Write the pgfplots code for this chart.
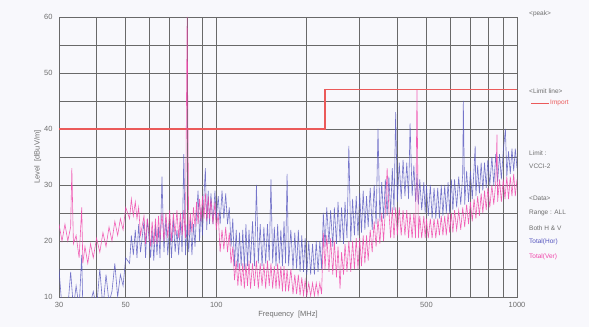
\documentclass[border=0pt]{standalone}
\usepackage{pgfplots}
\pgfplotsset{compat=1.18}
\usepackage{fontspec}
\setmainfont{Liberation Sans}
\definecolor{bgc}{RGB}{248,248,252}
\definecolor{gridc}{RGB}{105,105,105}
\definecolor{txtc}{RGB}{110,110,110}
\definecolor{horc}{RGB}{85,85,190}
\definecolor{verc}{RGB}{240,70,170}
\definecolor{limc}{RGB}{235,90,90}
\begin{document}
\begin{tikzpicture}[x=1pt,y=1pt]
\fill[bgc] (0,0) rectangle (589,327);
\begin{axis}[
  at={(59pt,30pt)}, anchor=south west,
  scale only axis, width=458pt, height=280pt,
  xmode=log, xmin=30, xmax=1000, ymin=10, ymax=60,
  xtick={30,40,50,60,70,80,90,100,200,300,400,500,600,700,800,900,1000},
  xticklabels={30,,50,,,,,100,,,,500,,,,,1000},
  ytick={10,15,20,25,30,35,40,45,50,55,60},
  yticklabels={10,,20,,30,,40,,50,,60},
  major tick length=0pt,
  grid=major,
  major grid style={draw=gridc, line width=0.7pt},
  axis line style={draw=gridc, line width=0.7pt},
  tick label style={font=\fontsize{7.5}{8}\selectfont, text=txtc},
  /pgf/number format/assume math mode=true,
  xticklabel style={yshift=-2pt},
  yticklabel style={xshift=-3pt},
  xlabel={Frequency\ \ [MHz]},
  ylabel={Level\ \ [dBuV/m]},
  label style={font=\fontsize{7.5}{8}\selectfont, text=txtc},
  xlabel style={yshift=4pt},
  ylabel style={yshift=-4pt},
  clip=true,
]
\addplot[color=limc, line width=1.3pt, const plot] coordinates {(30,40) (230,47) (1000,47)};
\addplot[draw=horc, line width=0.6pt, opacity=0.8] coordinates {
(30,15)(30.7,8)(31.4,9)(32.1,8)(32.8,14.5)(33.5,8)(34.2,12)(35,8)(35.7,17.5)(36,8)(36.6,9)(37.4,8)(38.2,9)(39,11)(40,8)(41,15)(42,8)(43,14)(44,9)(45,11)(46,16)(47,10)(48,14)(49,12)(50,17)(51.5,16)(52.2,21)(53,17.5)(53.8,22)(54.5,17)(55.2,23)(56,18)(57.5,23.5)(58.2,17)(59,24)(60.5,17)(61.2,22)(62,16.5)(62.8,23)(63.5,17.5)(64.3,22.5)(65,17)(66,31.5)(67,18)(68,24)(69,17.5)(70,23)(71,17)(72,24)(73,18)(74,22)(75,17.5)(76,23.5)(77,18)(78,35.5)(79,17.5)(80,23)(81,18)(82,24)(83,17.5)(84,23)(85,19)(86,25)(87,29)(88,20)(89,26)(90,21)(91,28)(92,33)(93,22)(94,29)(95,23)(96,28.5)(97.5,23)(99,29)(100,24)(101.5,28)(103,23)(104.5,29)(106,24)(107.5,28.5)(109,23)(110.5,26)(112,19)(113.5,24)(115,15.5)(116.5,22)(118,15)(119.5,21.5)(121,15.5)(122.5,22)(124,15)(125.5,23)(127,15.5)(128.5,22)(130,16)(132,23.5)(134,15.5)(136,30)(138,16)(140,23)(142,15.5)(144,22.5)(146,16)(148,23)(150,16.5)(152,31)(154,16)(156,22.5)(158,15.5)(160,23)(162,16)(164,22)(166,15.5)(168,23.5)(170,16)(172,32)(174,15.5)(177,22)(180,15)(182.5,21.5)(185,15)(187.5,22)(190,14.5)(192.5,21)(195,14.5)(197.5,20.5)(200,14)(203,20)(206,14)(209,19.5)(212,14)(215,20)(218,14.5)(221,20)(224,15)(227,25)(230,19)(233,26)(237,19.5)(240,25.5)(244,19)(247,26)(251,19.5)(254,27)(258,20)(261,26)(265,19.5)(268,27)(272,20.5)(276,37)(280,20)(284,27.5)(288,21)(292,28)(296,21)(300,28.5)(304,21.5)(308,29)(312,22)(316,28)(320,22.5)(325,29.5)(330,22)(335,30)(340,23)(345,40)(350,23.5)(355,30.5)(360,24)(365,31)(370,24.5)(375,31.5)(380,25)(385,33)(390,25.5)(395,43)(400,27)(406,34)(412,27.5)(418,34.5)(424,28)(430,34)(436,27.5)(441,41)(448,28)(454,33.5)(460,27)(465,32)(470,26.5)(475,31)(482,25.5)(490,30.5)(495,25)(500,30)(507,24.5)(515,30)(522,24)(530,29.5)(537,24)(545,29.5)(552,24)(560,30)(567,24.5)(575,30)(582,25)(590,30.5)(597,25)(605,31)(612,25.5)(620,31)(630,26)(640,31.5)(650,26.5)(660,32)(663,45)(670,26.5)(680,32.5)(690,27)(700,32.5)(710,27.5)(720,33)(726,37)(730,28)(740,33.5)(750,28.5)(760,34)(770,29)(780,34)(790,29.5)(800,34.5)(812,30)(825,35)(837,30)(850,35.5)(862,30.5)(875,35.5)(887,31)(900,36)(915,40)(925,31.5)(937,36)(950,32)(962,36.5)(975,32.5)(987,36.5)(1000,33)
};
\addplot[draw=verc, line width=0.6pt, opacity=0.85] coordinates {
(30,23)(30.7,20)(31.4,23)(32.1,20)(32.8,22.5)(33.1,33)(33.5,19.5)(34.2,21)(35,17)(35.7,26)(36,16)(36.6,19)(37.4,16)(38.2,19.5)(39,17)(40,20.5)(41,18)(42,21.5)(43,19)(44,22.5)(45,20)(46,23.5)(47,21)(48,24)(49,22)(50,26)(51.5,24)(52.2,27.5)(53,24.5)(53.8,27)(54.5,24)(55.2,26)(56,21)(57.5,24.5)(58.2,19.5)(59,24)(60.5,19)(61.2,23.5)(62,19.5)(62.8,24)(63.5,19.5)(64.3,24.5)(65,20)(66,25)(67,20)(68,25)(69,20.5)(70,25.5)(71,20)(72,25)(73,21)(74,25.5)(75,20.5)(76,25)(77,21)(78,25.5)(79,20.5)(80,60)(81,21)(82,25)(83,21.5)(84,26)(85,22.5)(86,27)(87,23)(88,27.5)(89,23.5)(90,28)(91,24)(92,28.5)(93,23.5)(94,28)(95,24)(96,27.5)(97.5,23)(99,27)(100,22)(101.5,25)(103,18)(104.5,22)(106,18.5)(107.5,22.5)(109,18)(110.5,21.5)(112,16)(113.5,19)(115,13)(116.5,16.5)(118,12)(119.5,16)(121,12)(122.5,16)(124,11.5)(125.5,16)(127,12)(128.5,16.5)(130,11.5)(132,16)(134,12)(136,16.5)(138,11.5)(140,16)(142,12)(144,16)(146,11.5)(148,16.5)(150,12)(152,16)(154,11.5)(156,15.5)(158,11.5)(160,16)(162,11.5)(164,15.5)(166,11)(168,15.5)(170,11)(172,15)(174,11)(177,15)(180,10.5)(182.5,14)(185,10.5)(187.5,14)(190,10.3)(192.5,13.5)(195,10.3)(197.5,13)(200,10.2)(203,12.5)(206,10.2)(209,12.5)(212,10.2)(215,12.5)(218,10.3)(221,12.5)(224,10.5)(227,21.5)(230,15)(233,21)(237,14.5)(240,20.5)(244,14)(247,20)(251,13.5)(254,19)(258,11.5)(261,18)(265,14)(268,19.5)(272,14.5)(276,20)(280,14.5)(284,20)(288,15)(292,20.5)(296,15)(300,20.5)(304,15.5)(308,21)(312,16)(316,21)(320,16.5)(325,22)(330,18)(335,23.5)(340,19)(345,24)(350,19.5)(355,25)(360,20)(365,25.5)(370,33)(375,25.5)(380,20.5)(385,26)(390,20.5)(395,26)(400,21)(406,26)(412,21)(418,25.5)(424,21)(430,25.5)(436,20.5)(441,25)(448,20.5)(454,25)(460,20.5)(465,47)(470,20.5)(475,24.5)(482,20.5)(490,24.5)(495,20.5)(500,24)(507,20.5)(515,24)(522,20.5)(530,24)(537,20.5)(545,24)(552,21)(560,24.5)(567,21)(575,24.5)(582,21)(590,25)(597,21.5)(605,25)(612,21.5)(620,25.5)(630,22)(640,25.5)(650,22)(660,26)(670,22.5)(680,26.5)(690,23)(700,27)(710,23.5)(720,27.5)(730,24)(740,28)(750,24.5)(760,28.5)(770,25)(780,29)(790,25.5)(800,29.5)(812,26)(825,30)(837,26.5)(850,30.5)(858,39)(862,27)(875,31)(887,27)(900,31)(912,27.5)(925,31.5)(937,27.5)(950,31.5)(962,28)(975,32)(987,28)(1000,31)
};
\end{axis}
\begin{scope}[every node/.style={anchor=west, inner sep=0pt, font=\fontsize{6.5}{7}\selectfont, text=txtc}]
\node at (529,313) {<peak>};
\node at (529,236) {<Limit line>};
\draw[limc, line width=0.6pt] (531,224) -- (549,224);
\node[text=limc] at (550,224) {Import};
\node at (529,174) {Limit :};
\node at (529,161) {VCCI-2};
\node at (529,129) {<Data>};
\node at (529,114) {Range : ALL};
\node at (529,99) {Both H \& V};
\node[text=horc] at (529,85) {Total(Hor)};
\node[text=verc] at (529,70) {Total(Ver)};
\end{scope}
\pgfresetboundingbox
\useasboundingbox (0,0) rectangle (589,327);
\end{tikzpicture}
\end{document}
